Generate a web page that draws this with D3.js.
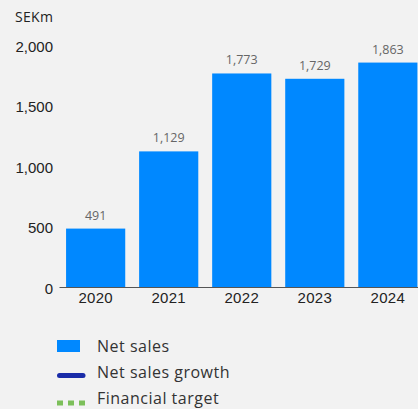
<!DOCTYPE html>
<html>
<head>
<meta charset="utf-8">
<script src="https://cdn.jsdelivr.net/npm/d3@7"></script>
<style>
  html, body { margin: 0; padding: 0; background: #f2f2f2; }
  svg { display: block; font-family: "Open Sans", "Lato", sans-serif; }
</style>
</head>
<body>
<svg id="chart" width="418" height="409"></svg>
<script>
// Net sales per year, SEK millions
const years = ["2020", "2021", "2022", "2023", "2024"];
const netSales = [491, 1129, 1773, 1729, 1863];
const yTicks = [0, 500, 1000, 1500, 2000];
const unitLabel = "SEKm";
const legendItems = ["Net sales", "Net sales growth", "Financial target"];

const svg = d3.select("#chart");
const W = 418, H = 409;
const baseY = 288;

const x = d3.scaleBand()
  .domain(years)
  .range([59.5, 424])
  .paddingInner(0.19)
  .paddingOuter(0.09);

const y = d3.scaleLinear()
  .domain([0, 2000])
  .range([baseY, 46]);

const fmt = d3.format(",");

// unit caption
svg.append("text")
  .attr("x", 15).attr("y", 22)
  .attr("font-size", 14).attr("fill", "#222")
  .attr("letter-spacing", 0.3)
  .text(unitLabel);

// bars
svg.append("g").selectAll("rect")
  .data(netSales)
  .join("rect")
  .attr("x", (d, i) => x(years[i]))
  .attr("width", x.bandwidth())
  .attr("y", d => y(d))
  .attr("height", d => baseY - y(d))
  .attr("fill", "#0088ff");

// value labels
svg.append("g").selectAll("text")
  .data(netSales)
  .join("text")
  .attr("x", (d, i) => x(years[i]) + x.bandwidth() / 2)
  .attr("y", d => y(d) - 9)
  .attr("text-anchor", "middle")
  .attr("font-size", 12.5)
  .attr("fill", "#666")
  .text(d => fmt(d));

// y axis labels
const yAxis = d3.axisLeft(y).tickValues(yTicks).tickFormat(fmt).tickSize(0).tickPadding(0);
const gy = svg.append("g").attr("transform", "translate(53,0)").call(yAxis);
gy.select(".domain").remove();
gy.selectAll("text")
  .attr("font-size", 15).attr("fill", "#222")
  .attr("font-family", null).attr("dy", "0.35em");

// x axis
const xAxis = d3.axisBottom(x).tickSize(0).tickPadding(0);
const gx = svg.append("g").attr("transform", `translate(0,${baseY})`).call(xAxis);
gx.select(".domain").remove();
gx.selectAll("text")
  .attr("font-size", 15).attr("fill", "#222")
  .attr("letter-spacing", 0.3)
  .attr("font-family", null).attr("y", 10).attr("dy", "0.35em");

svg.append("line")
  .attr("x1", 59.5).attr("x2", W)
  .attr("y1", baseY - 0.5).attr("y2", baseY - 0.5)
  .attr("stroke", "#555").attr("stroke-width", 1);

// legend
const lg = svg.append("g");
const rowY = [346.5, 372.5, 398.5];
lg.append("rect").attr("x", 57).attr("y", 340).attr("width", 23).attr("height", 12).attr("fill", "#0088ff");
lg.append("line").attr("x1", 59.5).attr("x2", 83).attr("y1", 375.5).attr("y2", 375.5)
  .attr("stroke", "#1a2ca8").attr("stroke-width", 5).attr("stroke-linecap", "round");
lg.append("line").attr("x1", 57).attr("x2", 87).attr("y1", 403).attr("y2", 403)
  .attr("stroke", "#7cbf5a").attr("stroke-width", 5).attr("stroke-dasharray", "6,5");
lg.selectAll("text.lbl")
  .data(legendItems)
  .join("text")
  .attr("class", "lbl")
  .attr("x", 97)
  .attr("y", (d, i) => rowY[i])
  .attr("dy", "0.35em")
  .attr("font-size", 16)
  .attr("letter-spacing", 0.5)
  .attr("fill", "#333")
  .text(d => d);
</script>
</body>
</html>
